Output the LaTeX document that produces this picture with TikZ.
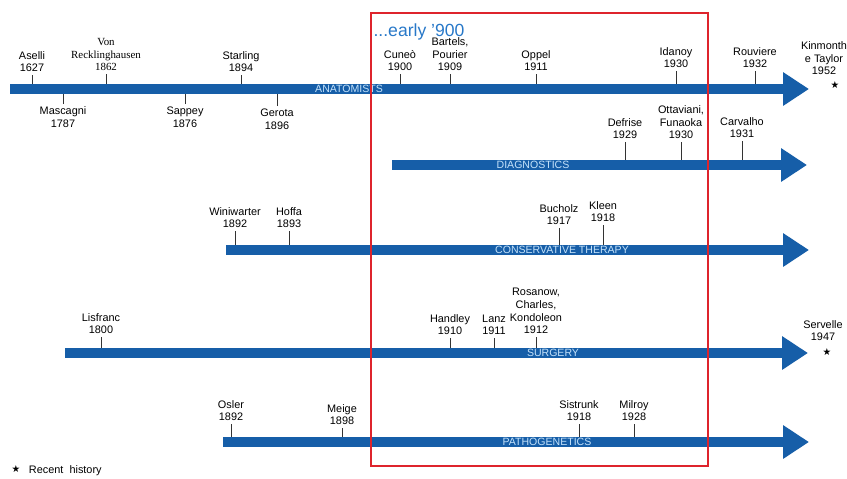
\documentclass[tikz,border=0pt]{standalone}
\usepackage{fontspec}
\setmainfont{Liberation Sans}
\newfontfamily\timesfont{Liberation Serif}
\newfontfamily\symfont{DejaVu Sans}
\usetikzlibrary{arrows.meta}
\definecolor{barblue}{RGB}{22,94,168}
\definecolor{bartext}{RGB}{196,226,250}
\definecolor{erared}{RGB}{222,36,44}
\definecolor{erablue}{RGB}{40,120,200}

\begin{document}
\begin{tikzpicture}[x=0.02cm, y=-0.02cm,
                    ev/.style={align=center, inner sep=1.5pt, font=\fontsize{6.2}{7.2}\selectfont},
                    evup/.style={ev, anchor=south},
                    evdown/.style={ev, anchor=north},
                    tick/.style={draw=black!80, line width=0.5pt},
                    timebar/.style={draw=barblue, line width=0.21cm, -{Triangle[length=0.52cm, width=0.64cm]}},
                    barname/.style={text=bartext, font=\fontsize{6}{6}\selectfont, inner sep=0pt},
                    recent/.style={font=\symfont\fontsize{5.5}{5.5}\selectfont, inner sep=0pt}]

    \useasboundingbox (0,0) rectangle (847,478);

    % Timeline end points
    \coordinate (anaS) at (10,89);   \coordinate (anaE) at (809,89);
    \coordinate (diaS) at (392,165); \coordinate (diaE) at (807,165);
    \coordinate (conS) at (226,250); \coordinate (conE) at (809,250);
    \coordinate (surS) at (65,353);  \coordinate (surE) at (808,353);
    \coordinate (patS) at (223,442); \coordinate (patE) at (809,442);

    % Anatomists
    \node[evup] (aselli) at (32,75) {Aselli\\1627};
    \node[evup, font=\timesfont\fontsize{6.2}{7.2}\selectfont] (reckling) at (106,74) {Von\\Recklinghausen\\1862};
    \node[evup] (starling) at (241,75) {Starling\\1894};
    \node[evup] (cuneo) at (400,74) {Cuneò\\1900};
    \node[evup] (bartels) at (450,74) {Bartels,\\Pourier\\1909};
    \node[evup] (oppel) at (536,74) {Oppel\\1911};
    \node[evup] (idanoy) at (676,71) {Idanoy\\1930};
    \node[evup] (rouviere) at (755,71) {Rouviere\\1932};
    \node[evup] (kinmonth) at (824,78) {Kinmonth\\e Taylor\\1952};
    \node[recent] (kinstar) at (835,85) {★};
    \node[evdown] (mascagni) at (63,104) {Mascagni\\1787};
    \node[evdown] (sappey) at (185,104) {Sappey\\1876};
    \node[evdown] (gerota) at (277,106) {Gerota\\1896};

    % Diagnostics
    \node[evup] (defrise) at (625,142) {Defrise\\1929};
    \node[evup] (ottaviani) at (681,142) {Ottaviani,\\Funaoka\\1930};
    \node[evup] (carvalho) at (742,141) {Carvalho\\1931};

    % Conservative therapy
    \node[evup] (winiwarter) at (235,231) {Winiwarter\\1892};
    \node[evup] (hoffa) at (289,231) {Hoffa\\1893};
    \node[evup] (bucholz) at (559,228) {Bucholz\\1917};
    \node[evup] (kleen) at (603,225) {Kleen\\1918};

    % Surgery
    \node[evup] (lisfranc) at (101,337) {Lisfranc\\1800};
    \node[evup] (handley) at (450,338) {Handley\\1910};
    \node[evup] (lanz) at (494,338) {Lanz\\1911};
    \node[evup] (rosanow) at (536,337) {Rosanow,\\Charles,\\Kondoleon\\1912};
    \node[evup] (servelle) at (823,344) {Servelle\\1947};
    \node[recent] (servstar) at (827,352) {★};

    % Pathogenetics
    \node[evup] (osler) at (231,424) {Osler\\1892};
    \node[evup] (meige) at (342,428) {Meige\\1898};
    \node[evup] (sistrunk) at (579,424) {Sistrunk\\1918};
    \node[evup] (milroy) at (634,424) {Milroy\\1928};

    % Ticks
    \foreach \ev/\bar in {aselli/anaS, reckling/anaS, starling/anaS, cuneo/anaS, bartels/anaS, oppel/anaS,
                          idanoy/anaS, rouviere/anaS, mascagni/anaS, sappey/anaS, gerota/anaS,
                          defrise/diaS, ottaviani/diaS, carvalho/diaS,
                          winiwarter/conS, hoffa/conS, bucholz/conS, kleen/conS,
                          lisfranc/surS, handley/surS, lanz/surS, rosanow/surS,
                          osler/patS, meige/patS, sistrunk/patS, milroy/patS}
        \draw[tick] (\ev) -- (\ev |- \bar);

    % Timelines
    \draw[timebar] (anaS) -- (anaE);
    \draw[timebar] (diaS) -- (diaE);
    \draw[timebar] (conS) -- (conE);
    \draw[timebar] (surS) -- (surE);
    \draw[timebar] (patS) -- (patE);
    \node[barname] (anatomists) at (349,89) {ANATOMISTS};
    \node[barname] (diagnostics) at (533,165) {DIAGNOSTICS};
    \node[barname] (conservative) at (562,250) {CONSERVATIVE THERAPY};
    \node[barname] (surgery) at (553,353) {SURGERY};
    \node[barname] (pathogenetics) at (547,442) {PATHOGENETICS};

    % Early 900 window
    \draw[erared, line width=1pt] (371,13) rectangle (708,466);
    \node[anchor=base, text=erablue, inner sep=1pt, font=\fontsize{10}{12}\selectfont] (early) at (419,36) {...early '900};

    % Legend
    \node[recent] (legstar) at (16,469) {★};
    \node[ev, anchor=west] (legend) at (26,471) {Recent~~history};
\end{tikzpicture}
\end{document}
